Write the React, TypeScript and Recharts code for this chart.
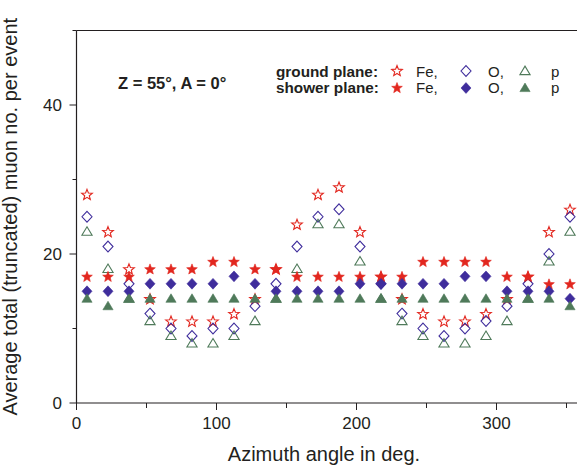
import React from "react";
import { Scatter, ScatterChart, XAxis, YAxis } from "recharts";

// azimuth bins (deg) and mean muon numbers
const angles = [
  7.5, 22.5, 37.5, 52.5, 67.5, 82.5, 97.5, 112.5, 127.5, 142.5, 157.5, 172.5,
  187.5, 202.5, 217.5, 232.5, 247.5, 262.5, 277.5, 292.5, 307.5, 322.5, 337.5, 352.5,
];
const groundFe = [28, 23, 18, 14, 11, 11, 11, 12, 14, 18, 24, 28, 29, 23, 17, 14, 12, 11, 11, 12, 14, 17, 23, 26];
const groundO = [25, 21, 16, 12, 10, 9, 10, 10, 13, 16, 21, 25, 26, 21, 16, 12, 10, 9, 10, 11, 13, 16, 20, 25];
const groundP = [23, 18, 14, 11, 9, 8, 8, 9, 11, 14, 18, 24, 24, 19, 14, 11, 9, 8, 8, 9, 11, 14, 19, 23];
const showerFe = [17, 17, 17, 18, 18, 18, 19, 19, 18, 18, 17, 17, 17, 17, 17, 17, 19, 19, 19, 19, 17, 17, 16, 16];
const showerO = [15, 15, 15, 16, 16, 16, 16, 17, 16, 15, 15, 15, 15, 16, 16, 16, 16, 16, 17, 17, 15, 15, 15, 14];
const showerP = [14, 13, 14, 14, 14, 14, 14, 14, 14, 14, 14, 14, 14, 14, 14, 14, 14, 14, 14, 14, 14, 14, 14, 13];

const xTicks = [0, 50, 100, 150, 200, 250, 300, 350];
const xLabelled = [0, 100, 200, 300];
const yTicks = [0, 10, 20, 30, 40, 50];
const yLabelled = [0, 20, 40];

const RED = "#e2271f";
const BLUE = "#3f2d9c";
const GREEN = "#4f7a5a";
const INK = "#231f20";
const FONT = "'Liberation Sans', Arial, Helvetica, sans-serif";

const toPoints = (values: number[]) => angles.map((x, i) => ({ x, y: values[i] }));

function starPath(cx: number, cy: number, R = 5.6, r = 2.4) {
  let d = "";
  for (let i = 0; i < 10; i++) {
    const rad = i % 2 === 0 ? R : r;
    const a = -Math.PI / 2 + (i * Math.PI) / 5;
    d += (i === 0 ? "M" : "L") + (cx + rad * Math.cos(a)).toFixed(2) + "," + (cy + 0.6 + rad * Math.sin(a)).toFixed(2);
  }
  return d + "Z";
}

type Kind = "star" | "diamond" | "triangle";

function Marker({ kind, filled, cx, cy }: { kind: Kind; filled: boolean; cx?: number; cy?: number }) {
  if (cx === undefined || cy === undefined) return null;
  const color = kind === "star" ? RED : kind === "diamond" ? BLUE : GREEN;
  const paint = {
    fill: filled ? color : "none",
    stroke: color,
    strokeWidth: filled ? 0.6 : 1.1,
    strokeLinejoin: "miter" as const,
  };
  if (kind === "star") return <path d={starPath(cx, cy)} {...paint} />;
  if (kind === "diamond")
    return <path d={`M${cx},${cy - 5.4}L${cx + 5},${cy}L${cx},${cy + 5.4}L${cx - 5},${cy}Z`} {...paint} />;
  return <path d={`M${cx},${cy - 4.9}L${cx + 5.1},${cy + 3.6}L${cx - 5.1},${cy + 3.6}Z`} {...paint} />;
}

const shapeOf = (kind: Kind, filled: boolean) => (p: any) => (
  <Marker kind={kind} filled={filled} cx={p.cx} cy={p.cy} />
);

function BottomTick(props: any) {
  const { x, y, payload } = props;
  const major = payload.value % 100 === 0;
  return (
    <g>
      <line x1={x} y1={y} x2={x} y2={y + (major ? 7 : 5)} stroke={INK} />
      {xLabelled.includes(payload.value) && (
        <text x={x} y={y + 14} dy="0.71em" textAnchor="middle" fontSize={17} fontFamily={FONT} fill={INK}>
          {payload.value}
        </text>
      )}
    </g>
  );
}

function TopTick(props: any) {
  const { x, y, payload } = props;
  const major = payload.value % 100 === 0;
  return <line x1={x} y1={y} x2={x} y2={y + (major ? 7 : 5)} stroke={INK} />;
}

function LeftTick(props: any) {
  const { x, y, payload } = props;
  const major = payload.value % 20 === 0;
  return (
    <g>
      <line x1={x - (major ? 7 : 4)} y1={y} x2={x} y2={y} stroke={INK} />
      {yLabelled.includes(payload.value) && (
        <text x={x - 14.5} y={y} dy="0.36em" textAnchor="end" fontSize={17} fontFamily={FONT} fill={INK}>
          {payload.value}
        </text>
      )}
    </g>
  );
}

function RightTick(props: any) {
  const { x, y, payload } = props;
  const major = payload.value % 20 === 0;
  return <line x1={x - (major ? 7 : 4)} y1={y} x2={x} y2={y} stroke={INK} />;
}

const series: { name: string; values: number[]; kind: Kind; filled: boolean }[] = [
  { name: "ground Fe", values: groundFe, kind: "star", filled: false },
  { name: "ground O", values: groundO, kind: "diamond", filled: false },
  { name: "ground p", values: groundP, kind: "triangle", filled: false },
  { name: "shower Fe", values: showerFe, kind: "star", filled: true },
  { name: "shower O", values: showerO, kind: "diamond", filled: true },
  { name: "shower p", values: showerP, kind: "triangle", filled: true },
];

export default function App() {
  const axisLine = { stroke: INK, strokeWidth: 1.2 };
  return (
    <div
      style={{
        position: "absolute",
        left: 0,
        top: 0,
        width: 577,
        height: 468,
        overflow: "hidden",
        background: "#fff",
      }}
    >
      <ScatterChart width={600} height={468} margin={{ top: 29.5, right: 18.5, bottom: 5, left: 16.5 }}>
        <XAxis
          type="number"
          dataKey="x"
          domain={[0, 360]}
          ticks={xTicks}
          interval={0}
          tickSize={0}
          tickMargin={0}
          tickLine={false}
          axisLine={axisLine}
          tick={<BottomTick />}
          height={60}
        />
        <XAxis
          xAxisId="top"
          orientation="top"
          type="number"
          domain={[0, 360]}
          ticks={xTicks}
          interval={0}
          tickSize={0}
          tickMargin={0}
          tickLine={false}
          axisLine={axisLine}
          tick={<TopTick />}
          height={1}
        />
        <YAxis
          type="number"
          dataKey="y"
          domain={[0, 50]}
          ticks={yTicks}
          interval={0}
          tickSize={0}
          tickMargin={0}
          tickLine={false}
          axisLine={axisLine}
          tick={<LeftTick />}
          width={60}
        />
        <YAxis
          yAxisId="right"
          orientation="right"
          type="number"
          domain={[0, 50]}
          ticks={yTicks}
          interval={0}
          tickSize={0}
          tickMargin={0}
          tickLine={false}
          axisLine={axisLine}
          tick={<RightTick />}
          width={1}
        />
        {series.map((s) => (
          <Scatter
            key={s.name}
            name={s.name}
            data={toPoints(s.values)}
            shape={shapeOf(s.kind, s.filled)}
            isAnimationActive={false}
          />
        ))}
      </ScatterChart>

      <svg
        width={577}
        height={468}
        style={{ position: "absolute", left: 0, top: 0, pointerEvents: "none" }}
        fontFamily={FONT}
        fill={INK}
      >
        <text transform="translate(17, 216.75) rotate(-90)" textAnchor="middle" fontSize={20}>
          Average total (truncated) muon no. per event
        </text>
        <text x={324} y={461} textAnchor="middle" fontSize={20}>
          Azimuth angle in deg.
        </text>
        <text x={118} y={89} fontSize={16.5} fontWeight="bold">
          Z = 55°, A = 0°
        </text>

        <text x={276} y={76.5} fontSize={15.3} fontWeight="bold">
          ground plane:
        </text>
        <text x={276} y={93} fontSize={15.3} fontWeight="bold">
          shower plane:
        </text>
        <Marker kind="star" filled={false} cx={397} cy={70.5} />
        <Marker kind="star" filled cx={397} cy={87.5} />
        <text x={416} y={76.5} fontSize={15}>Fe,</text>
        <text x={416} y={93} fontSize={15}>Fe,</text>
        <Marker kind="diamond" filled={false} cx={466} cy={71} />
        <Marker kind="diamond" filled cx={466} cy={88} />
        <text x={488} y={76.5} fontSize={15}>O,</text>
        <text x={488} y={93} fontSize={15}>O,</text>
        <Marker kind="triangle" filled={false} cx={525} cy={71} />
        <Marker kind="triangle" filled cx={525} cy={88} />
        <text x={551} y={76.5} fontSize={15}>p</text>
        <text x={551} y={93} fontSize={15}>p</text>
      </svg>
    </div>
  );
}
